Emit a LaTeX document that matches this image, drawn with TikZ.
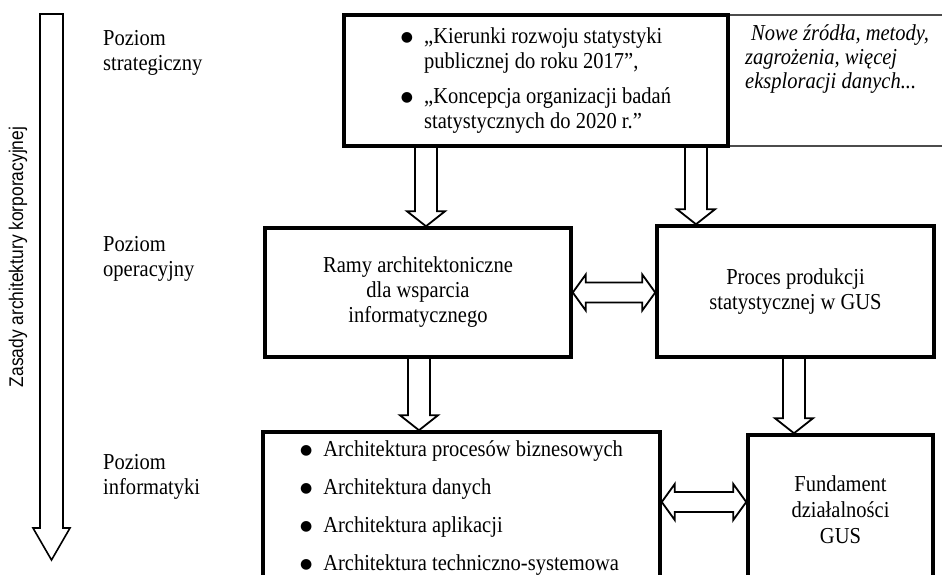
\documentclass[tikz,border=0pt]{standalone}
\usepackage{graphicx}
\usepackage{fontspec}
\setmainfont{Liberation Serif}[FakeStretch=0.9]
\setsansfont{Liberation Sans}[FakeStretch=0.88]
\newfontfamily\dotfont{DejaVu Sans}
\usetikzlibrary{calc}

\tikzset{
    box/.style={draw, line width=3.5pt, inner sep=0pt, align=center},
    thinbox/.style={draw=black!70, line width=1.3pt, inner sep=0pt},
    hollow/.style={draw, line width=1.8pt, line join=miter},
    level/.style={anchor=west, align=left, inner sep=0pt},
}

\newcommand{\bul}{\raisebox{0.1ex}{\dotfont\fontsize{14}{14}\selectfont ●}}

% hollow block arrow pointing down, from #1 to tip #2
\newcommand{\hollowdown}[2]{%
  \draw[hollow] let \p1=(#1), \p2=(#2) in
    (\x1-11pt,\y1) -- (\x1-11pt,\y2+15pt) -- (\x1-19pt,\y2+15pt) -- (\x1,\y2)
    -- (\x1+19pt,\y2+15pt) -- (\x1+11pt,\y2+15pt) -- (\x1+11pt,\y1);}
% hollow double arrow, tips at #1 (left) and #2 (right)
\newcommand{\hollowboth}[2]{%
  \draw[hollow] let \p1=(#1), \p2=(#2) in
    (\x1,\y1) -- (\x1+13pt,\y1+18pt) -- (\x1+13pt,\y1+10pt) -- (\x2-13pt,\y1+10pt)
    -- (\x2-13pt,\y1+18pt) -- (\x2,\y1) -- (\x2-13pt,\y1-18pt) -- (\x2-13pt,\y1-10pt)
    -- (\x1+13pt,\y1-10pt) -- (\x1+13pt,\y1-18pt) -- cycle;}

\begin{document}
\begin{tikzpicture}[
    x=1pt, y=-1pt,
    every node/.style={font=\fontsize{22.8}{25}\selectfont},
]
\useasboundingbox (0,0) rectangle (942,574);
\clip (0,0) rectangle (942,574);

% === Left axis ===
\draw[line width=1.6pt, line join=miter]
    (40,14) -- (63,14) -- (63,528) -- (70,528) -- (51.5,560) -- (33,528) -- (40,528) -- cycle;
\node[rotate=90, inner sep=0pt, font=\sffamily\fontsize{19.8}{20}\selectfont] (zasady) at (18,257)
    {Zasady architektury korporacyjnej};

% === Levels ===
\node[level] (lstrat) at (103,52.5) {Poziom\\strategiczny};
\node[level] (lopera) at (103,259) {Poziom\\operacyjny};
\node[level] (linfo) at (103,477) {Poziom\\informatyki};

% === Strategic level ===
\node[thinbox, minimum width=224pt, minimum height=131pt] (nowe) at (840,80.5) {};
\node[level, anchor=north west, font=\itshape\fontsize{22.8}{24}\selectfont] (nowetxt) at (745,24)
    {\hspace*{6pt}Nowe źródła, metody,\\zagrożenia, więcej\\eksploracji danych...};
\node[box, minimum width=384pt, minimum height=131pt] (kier) at (536,80.5)
    {\begin{tabular}{@{}c@{\hspace{11pt}}l@{}}
      \bul & „Kierunki rozwoju statystyki\\
           & publicznej do roku 2017”,\\[10pt]
      \bul & „Koncepcja organizacji badań\\
           & statystycznych do 2020 r.”
    \end{tabular}};

% === Operational level ===
\node[box, minimum width=306pt, minimum height=129pt] (ramy) at (418,292.5)
    {Ramy architektoniczne\\dla wsparcia\\informatycznego};
\node[box, minimum width=277pt, minimum height=131pt] (proces) at (795.5,291.5)
    {Proces produkcji\\statystycznej w GUS};

% === IT level ===
\node[box, minimum width=397pt, minimum height=152pt] (arch) at (461.5,508)
    {\begin{tabular}{@{}c@{\hspace{11pt}}l@{}}
      \bul & Architektura procesów biznesowych\\[13pt]
      \bul & Architektura danych\\[13pt]
      \bul & Architektura aplikacji\\[13pt]
      \bul & Architektura techniczno-systemowa
    \end{tabular}};
\node[box, minimum width=185pt, minimum height=149pt, font=\fontsize{22.8}{26}\selectfont] (fund) at (840.5,509.5)
    {Fundament\\działalności\\GUS};

% === Arrows ===
\hollowdown{kier.south -| 426,0}{ramy.north -| 426,0}
\hollowdown{kier.south -| 696,0}{proces.north -| 696,0}
\hollowdown{ramy.south -| 419,0}{arch.north -| 419,0}
\hollowdown{proces.south -| 794,0}{fund.north -| 794,0}
\hollowboth{ramy.east}{ramy.east -| proces.west}
\coordinate (archmid) at ([yshift=6pt]arch.east);
\hollowboth{archmid}{archmid -| fund.west}

\end{tikzpicture}
\end{document}
